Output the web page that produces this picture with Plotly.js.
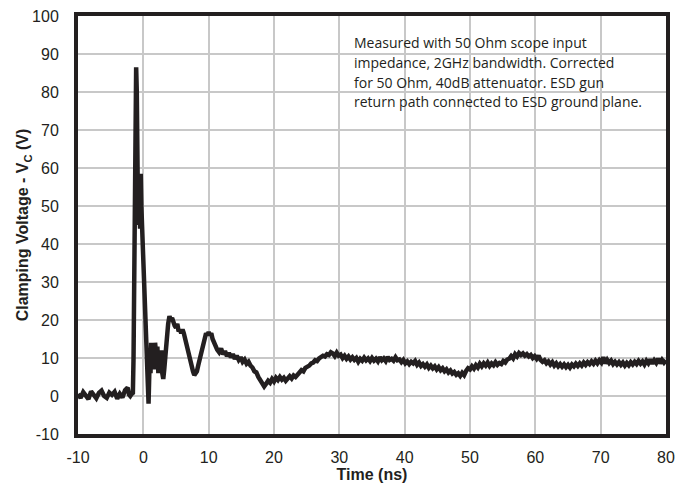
<!DOCTYPE html>
<html>
<head>
<meta charset="utf-8">
<script src="https://cdn.plot.ly/plotly-3.0.1.min.js"></script>
<style>html,body{margin:0;padding:0;background:#fff}#chart{width:676px;height:487px}</style>
</head>
<body>
<div id="chart"></div>
<script>
// Time (ns)
const timeNs = [
-10,-9.6,-9.2,-8.8,-8.4,-8.0,-7.6,-7.2,-6.8,-6.4,-6.0,-5.6,-5.2,-4.8,-4.4,-4.0,-3.6,-3.2,-2.8,-2.4,-2.2,-2.0,-1.8,-1.6,
-1.5,-1.35,-1.2,-1.1,-1.0,-0.9,-0.8,-0.7,-0.6,-0.5,-0.4,-0.3,-0.2,-0.1,0.05,0.2,0.35,0.5,0.6,0.7,0.8,0.9,1.0,1.1,1.2,1.35,1.5,1.65,1.8,2.0,2.15,2.3,2.45,2.6,2.75,2.9,3.05,3.2,3.4,3.6,3.8,4.0,4.2,4.4,4.6,4.8,5.0,5.2,5.4,5.6,5.8,6.0,6.2,6.4,6.6,6.8,7.0,7.2,7.4,7.6,7.8,8.0,8.2,8.4,8.6,8.8,9.0,9.2,9.4,9.6,9.8,10.0,10.2,10.4,10.6,10.8,11.0,
11.3,11.6,11.9,12.2,12.5,12.8,13.1,13.4,13.7,14.0,14.3,14.6,14.9,15.2,15.5,15.8,16.1,16.4,16.7,17.0,17.3,17.6,17.9,18.2,18.5,18.8,19.1,19.4,19.7,20.0,
20.3,20.6,20.9,21.2,21.5,21.8,22.1,22.4,22.7,23.0,23.3,23.6,23.9,24.2,24.5,24.8,25.1,25.4,25.7,26.0,26.3,26.6,26.9,27.2,27.5,27.8,28.1,28.4,28.7,29.0,
29.3,29.6,29.9,30.2,30.5,30.8,31.1,31.4,31.7,32.0,32.3,32.6,32.9,33.2,33.5,33.8,34.1,34.4,34.7,35.0,35.3,35.6,35.9,36.2,36.5,36.8,37.1,37.4,37.7,38.0,
38.3,38.6,38.9,39.2,39.5,39.8,40.1,40.4,40.7,41.0,41.3,41.6,41.9,42.2,42.5,42.8,43.1,43.4,43.7,44.0,44.3,44.6,44.9,45.2,45.5,45.8,46.1,46.4,46.7,47.0,
47.3,47.6,47.9,48.2,48.5,48.8,49.1,49.4,49.7,50.0,50.3,50.6,50.9,51.2,51.5,51.8,52.1,52.4,52.7,53.0,53.3,53.6,53.9,54.2,54.5,54.8,55.1,55.4,55.7,56.0,
56.3,56.6,56.9,57.2,57.5,57.8,58.1,58.4,58.7,59.0,59.3,59.6,59.9,60.2,60.5,60.8,61.1,61.4,61.7,62.0,62.3,62.6,62.9,63.2,63.5,63.8,64.1,64.4,64.7,65.0,
65.3,65.6,65.9,66.2,66.5,66.8,67.1,67.4,67.7,68.0,68.3,68.6,68.9,69.2,69.5,69.8,70.1,70.4,70.7,71.0,71.3,71.6,71.9,72.2,72.5,72.8,73.1,73.4,73.7,74.0,
74.3,74.6,74.9,75.2,75.5,75.8,76.1,76.4,76.7,77.0,77.3,77.6,77.9,78.2,78.5,78.8,79.1,79.4,79.7,80.0
];
// Clamping voltage (V)
const clampV = [
0.5,-0.5,1.0,0,-0.8,1.2,0.2,-0.6,0.8,1.4,0,-0.5,0.9,0.3,1.1,-0.7,0.6,-0.4,1.5,2.2,0.4,0.0,0.5,0.8,
10,50,80,86.5,80,60,45,58,55,44,58.5,50,45,40,32,24,18,14,8,2,-2,5,12,6,14,9,13,7,14,10,13,6,11,8,12,6,4.5,7,12,16,19,21,20,20.5,19,18.5,18,19,17,17.5,16.5,17.5,16.5,15,14,12,10.5,8.5,7.5,6.5,5.5,6.0,6.5,8,9.5,11,13,14.5,15.5,16.5,16,16.8,16,16.5,15,14,13,
12.2,11.5,12.5,11,11.8,10.5,11.3,10.2,11,9.8,10.6,9.5,10.2,9,9.6,8.5,9,8,7.5,6.5,6.2,5,4,3.2,2.5,3.2,4,3.5,4.5,3.8,
4.8,4.2,5,4.3,4.8,4.0,4.6,5.2,4.6,5.4,5.0,5.8,6.2,6.8,6.5,7.4,7.6,8,8.6,8.8,9.4,9.2,9.9,10.1,10.6,10.4,11,10.8,11.5,11.2,
10.5,11.4,10.6,10.9,10.0,10.6,9.8,10.4,9.6,10.2,9.5,10,9.0,9.8,9.3,10.1,9.4,9.9,9.2,10.0,9.3,9.8,9.1,10.2,9.4,9.9,9.2,10.3,9.5,9.8,
9.3,10.2,9.4,9.6,8.9,9.5,8.6,9.1,8.4,9.0,8.6,9.2,8.2,8.8,7.9,8.4,7.7,8.3,7.4,8.0,7.3,7.8,7.0,7.6,6.8,7.3,6.5,7.0,6.2,6.7,
5.9,6.3,5.6,6.0,5.3,6.1,5.5,6.6,7.3,7.0,7.8,7.2,8.1,7.5,8.5,7.8,8.6,8.0,8.8,7.9,8.6,8.1,8.9,8.2,8.7,8.4,9.2,8.8,9.6,9.8,
10.5,9.9,11.0,10.4,11.3,10.8,11.2,10.6,11.0,10.4,10.8,10.0,10.5,9.8,10.6,9.5,9.0,9.4,8.6,9.1,8.3,8.9,8.0,8.6,7.8,8.4,7.7,8.3,7.6,8.2,
7.5,8.3,7.8,8.5,7.9,8.6,8.0,8.8,8.2,8.9,8.4,9.1,8.5,9.3,8.6,9.4,8.8,10.2,8.6,9.5,8.7,9.3,8.4,9.0,8.3,8.9,8.2,8.8,8.0,8.7,
8.1,8.9,8.3,9.0,8.4,9.2,8.5,9.1,8.3,9.3,8.6,9.6,8.5,9.4,8.7,9.8,8.6,9.5,8.8,9.4
];
const xTicks = [-10,0,10,20,30,40,50,60,70,80];
const yTicks = [-10,0,10,20,30,40,50,60,70,80,90,100];
const noteLines = [
  "Measured with 50 Ohm scope input",
  "impedance, 2GHz bandwidth. Corrected",
  "for 50 Ohm, 40dB attenuator. ESD gun",
  "return path connected to ESD ground plane."
];

const ink = '#231f20';
const axisFont = {family: 'Liberation Sans, Arial, sans-serif', size: 16, color: ink};

const annotations = noteLines.map((t, i) => ({
  xref: 'paper', yref: 'paper',
  x: 0.466, y: (434 - (42 + 20 * i)) / 418,
  xanchor: 'left', yanchor: 'middle',
  text: t, showarrow: false, align: 'left',
  font: {family: 'Open Sans, sans-serif', size: 14, color: ink}
}));

const layout = {
  width: 676, height: 487,
  margin: {l: 78, r: 10, t: 16, b: 53},
  paper_bgcolor: '#fff', plot_bgcolor: '#fff',
  showlegend: false,
  xaxis: {
    range: [-10, 80], tickvals: xTicks, ticktext: xTicks.map(String),
    showgrid: true, gridcolor: '#c8c8c8', gridwidth: 2,
    zeroline: false, showline: true, linecolor: ink, linewidth: 4, mirror: true,
    ticks: 'outside', ticklen: 6, tickcolor: 'rgba(0,0,0,0)',
    tickfont: axisFont,
    title: {text: '<b>Time (ns)</b>', font: {family: 'Liberation Sans, Arial, sans-serif', size: 16, color: ink}, standoff: 0}
  },
  yaxis: {
    range: [-10, 100], tickvals: yTicks, ticktext: yTicks.map(String),
    showgrid: true, gridcolor: '#c8c8c8', gridwidth: 2,
    zeroline: false, showline: true, linecolor: ink, linewidth: 4, mirror: true,
    ticks: 'outside', ticklen: 12, tickcolor: 'rgba(0,0,0,0)',
    tickfont: axisFont,
    title: {text: '<b>Clamping Voltage - V<sub>C</sub> (V)</b>', font: {family: 'Liberation Sans, Arial, sans-serif', size: 16, color: ink}, standoff: 0}
  },
  shapes: [{
    type: 'rect', xref: 'paper', yref: 'paper', layer: 'between',
    x0: 0.451, x1: 0.986, y0: 0.739, y1: 0.974,
    fillcolor: '#fff', line: {width: 0}
  }],
  annotations: annotations
};

Plotly.newPlot('chart', [{
  x: timeNs, y: clampV, type: 'scatter', mode: 'lines',
  line: {color: ink, width: 4.5, shape: 'linear'},
  hoverinfo: 'skip'
}], layout, {staticPlot: true, displayModeBar: false});
</script>
</body>
</html>
